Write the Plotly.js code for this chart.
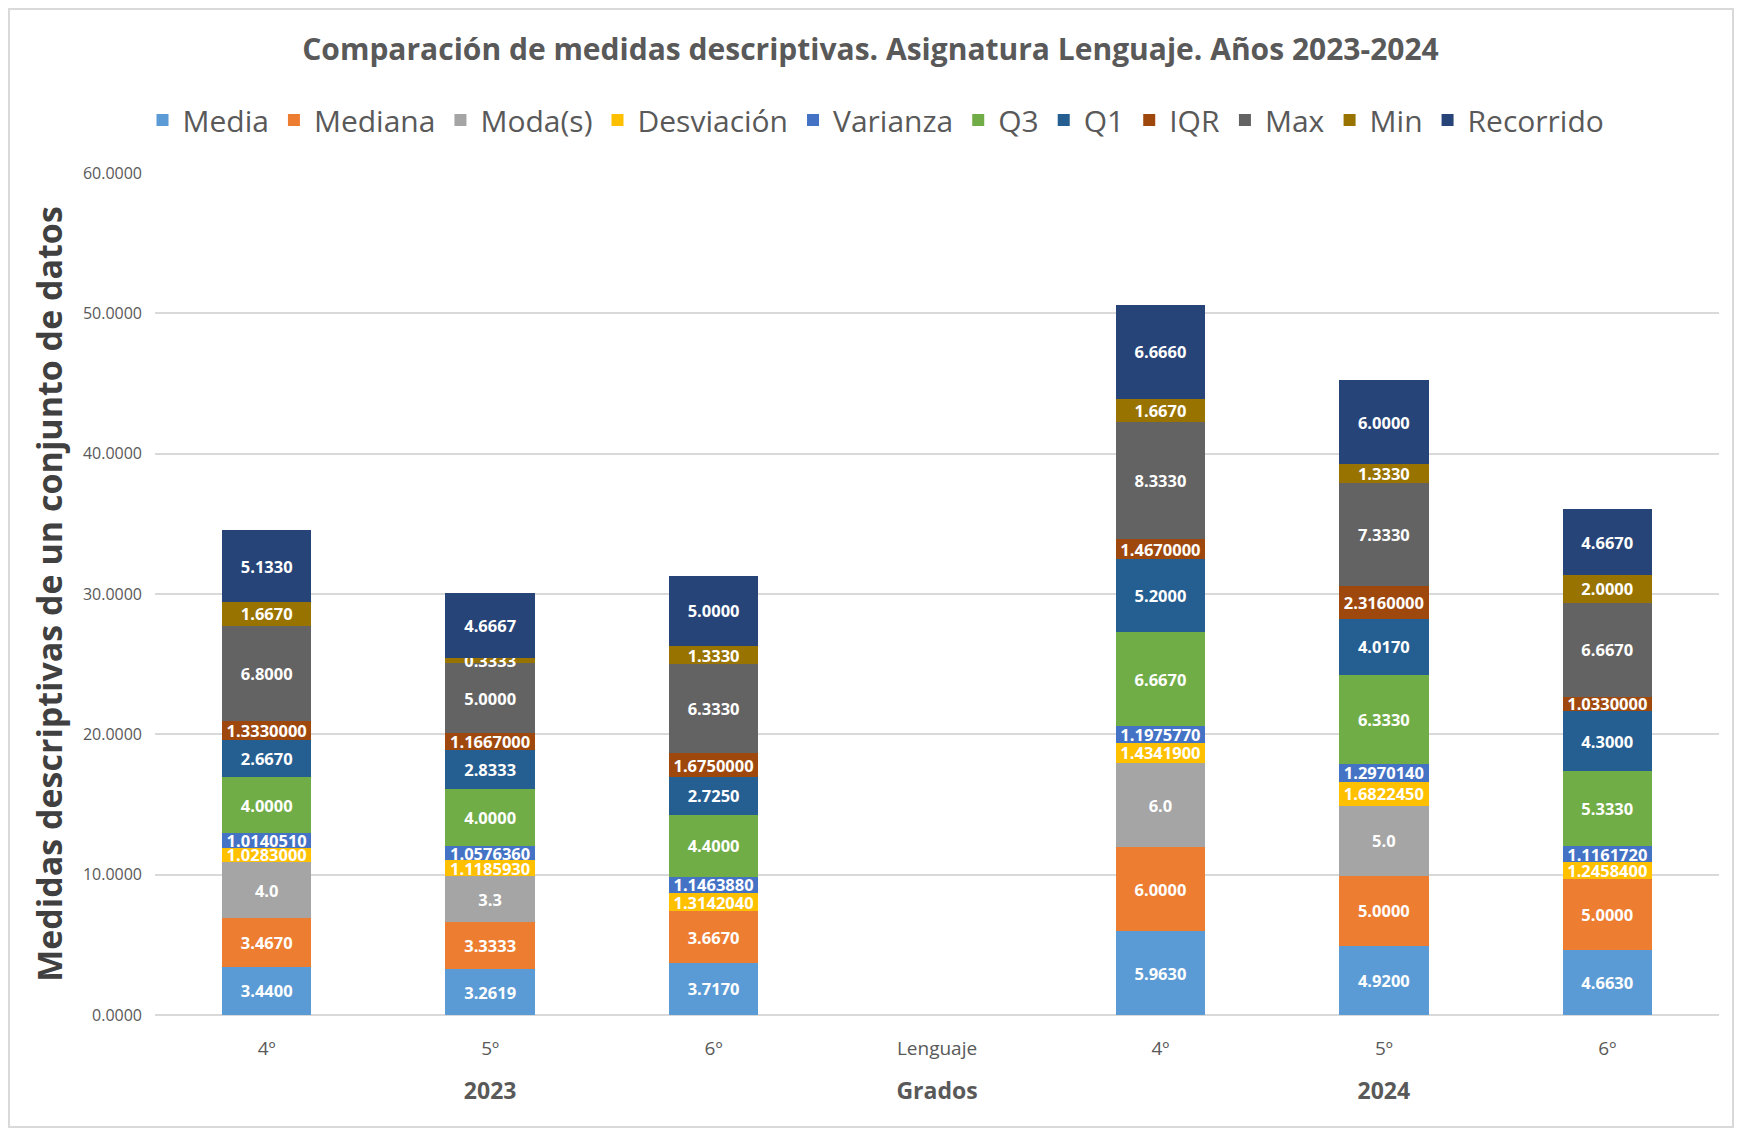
<!DOCTYPE html>
<html>
<head>
<meta charset="utf-8">
<script src="https://cdn.plot.ly/plotly-3.0.1.min.js"></script>
<style>
  html, body { margin: 0; padding: 0; background: #fff; }
  #frame { position: absolute; left: 8px; top: 8px; width: 1726px; height: 1120px; border: 2px solid #d9d9d9; box-sizing: border-box; pointer-events: none; }
  #chart { width: 1741px; height: 1133px; }
</style>
</head>
<body>
<div id="chart"></div>
<div id="frame"></div>
<script>
// ---- data ----
const years  = ["2023", "2023", "2023", "Grados", "2024", "2024", "2024"];
const grados = ["4º", "5º", "6º", "Lenguaje", "4º", "5º", "6º"];

const media      = [3.4400, 3.2619, 3.7170, null, 5.9630, 4.9200, 4.6630];
const mediana    = [3.4670, 3.3333, 3.6670, null, 6.0000, 5.0000, 5.0000];
const moda       = [4.0, 3.3, 0.0, null, 6.0, 5.0, 0.0];
const desviacion = [1.0283000, 1.1185930, 1.3142040, null, 1.4341900, 1.6822450, 1.2458400];
const varianza   = [1.0140510, 1.0576360, 1.1463880, null, 1.1975770, 1.2970140, 1.1161720];
const q3         = [4.0000, 4.0000, 4.4000, null, 6.6670, 6.3330, 5.3330];
const q1         = [2.6670, 2.8333, 2.7250, null, 5.2000, 4.0170, 4.3000];
const iqr        = [1.3330000, 1.1667000, 1.6750000, null, 1.4670000, 2.3160000, 1.0330000];
const maxv       = [6.8000, 5.0000, 6.3330, null, 8.3330, 7.3330, 6.6670];
const minv       = [1.6670, 0.3333, 1.3330, null, 1.6670, 1.3330, 2.0000];
const recorrido  = [5.1330, 4.6667, 5.0000, null, 6.6660, 6.0000, 4.6670];

const seriesNames = ["Media", "Mediana", "Moda(s)", "Desviación", "Varianza", "Q3", "Q1", "IQR", "Max", "Min", "Recorrido"];
const seriesVals  = [media, mediana, moda, desviacion, varianza, q3, q1, iqr, maxv, minv, recorrido];
const seriesFmt   = [".4f", ".4f", ".1f", ".7f", ".7f", ".4f", ".4f", ".7f", ".4f", ".4f", ".4f"];
const colors = ["#5B9BD5", "#ED7D31", "#A5A5A5", "#FFC000", "#4472C4", "#70AD47", "#255E91", "#9E480E", "#636363", "#997300", "#264478"];

// label styling (group labels bold & larger; grade labels normal)
const groupLabels = years.map(y => "<br><span style='font-size:23px'><b>" + y + "</b></span>");
const gradeLabels = grados.map(g => "<span style='font-size:19px'>" + g + "</span>");

const traces = seriesNames.map((name, i) => ({
  type: "bar",
  name: name,
  x: [groupLabels, gradeLabels],
  y: seriesVals[i],
  marker: { color: colors[i], line: { width: 0 } },
  texttemplate: "%{y:" + seriesFmt[i] + "}",
  textposition: "inside",
  insidetextanchor: "middle",
  constraintext: "none",
  textangle: 0,
  insidetextfont: { family: "Open Sans, sans-serif", size: 16.5, color: "#ffffff", weight: "bold" },
  cliponaxis: false
}));

const layout = {
  width: 1741,
  height: 1133,
  paper_bgcolor: "#ffffff",
  plot_bgcolor: "#ffffff",
  barmode: "stack",
  bargap: 0.6,
  margin: { l: 155, r: 22, t: 173, b: 118 },
  font: { family: "Open Sans, sans-serif", color: "#595959" },
  title: {
    text: "<b>Comparación de medidas descriptivas. Asignatura Lenguaje. Años 2023-2024</b>",
    font: { family: "Open Sans, sans-serif", size: 30, color: "#595959" },
    x: 0.5, xanchor: "center", y: 0.956, yanchor: "middle"
  },
  legend: {
    orientation: "h",
    x: 0.461, xanchor: "center",
    y: 1.063, yanchor: "middle",
    font: { family: "Open Sans, sans-serif", size: 30, color: "#595959" },
    traceorder: "normal",
    itemsizing: "constant"
  },
  xaxis: {
    type: "multicategory",
    showgrid: false,
    showline: false,
    ticks: "",
    ticklabelstandoff: 15,
    tickfont: { family: "Open Sans, sans-serif", size: 24, color: "#595959" },
    dividerwidth: 0,
    showdividers: false
  },
  yaxis: {
    range: [0, 60],
    dtick: 10,
    tickformat: ".4f",
    showgrid: true,
    gridcolor: "#d9d9d9",
    gridwidth: 2,
    zeroline: true,
    zerolinecolor: "#d9d9d9",
    zerolinewidth: 2,
    ticks: "",
    ticklabelstandoff: 12,
    tickfont: { family: "Open Sans, sans-serif", size: 16, color: "#595959" },
    title: {
      text: "<b>Medidas descriptivas de un conjunto de datos</b>",
      font: { family: "Open Sans, sans-serif", size: 34, color: "#404040" },
      standoff: 10
    }
  }
};

Plotly.newPlot("chart", traces, layout, { displayModeBar: false, staticPlot: true });
</script>
</body>
</html>
